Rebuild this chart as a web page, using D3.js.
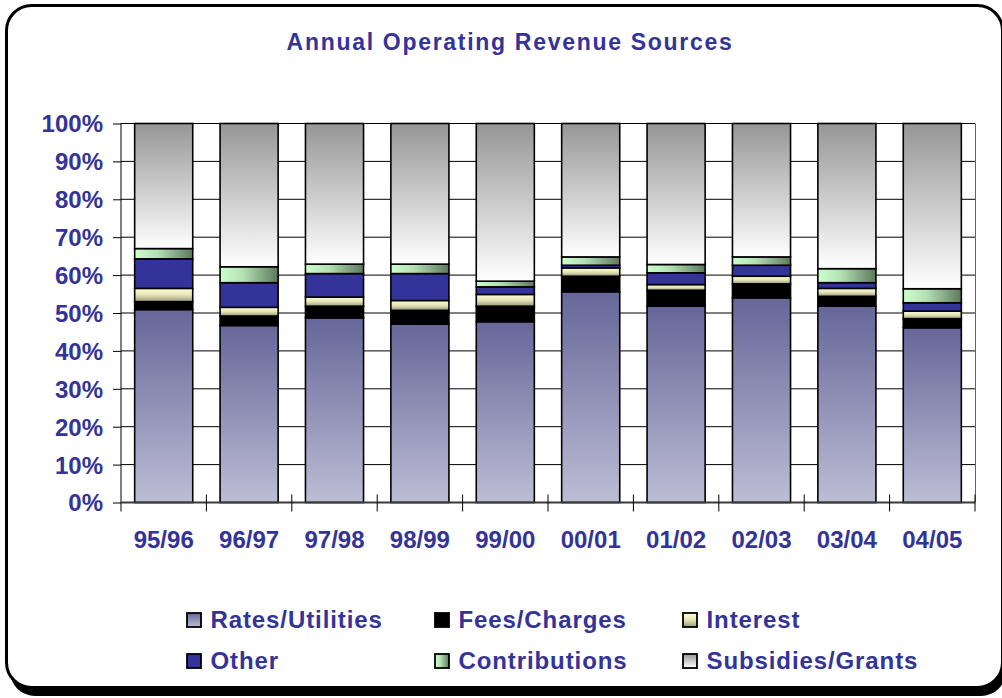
<!DOCTYPE html>
<html>
<head>
<meta charset="utf-8">
<script src="https://cdn.jsdelivr.net/npm/d3@7"></script>
<style>
  body { margin: 0; background: #fff; }
  svg { display: block; font-family: 'Liberation Sans', Arial, sans-serif; }
</style>
</head>
<body>
<script>
const years = ['95/96', '96/97', '97/98', '98/99', '99/00', '00/01', '01/02', '02/03', '03/04', '04/05'];
const seriesNames = ['Rates/Utilities', 'Fees/Charges', 'Interest', 'Other', 'Contributions', 'Subsidies/Grants'];

// percent of operating revenue per year
const ratesUtilities = [50.9, 46.7, 48.7, 47.1, 47.7, 55.6, 51.8, 54.0, 51.8, 46.1];
const feesCharges = [2.1, 2.5, 3.1, 3.6, 4.1, 4.1, 4.2, 3.7, 2.6, 2.4];
const interest = [3.5, 2.3, 2.4, 2.6, 3.1, 2.2, 1.5, 2.0, 2.1, 2.0];
const other = [7.8, 6.5, 6.2, 7.1, 2.0, 0.7, 3.1, 2.9, 1.5, 2.2];
const contributions = [2.7, 4.2, 2.5, 2.5, 1.5, 2.2, 2.2, 2.2, 3.7, 3.7];
const subsidiesGrants = [33.0, 37.8, 37.1, 37.1, 41.6, 35.2, 37.2, 35.2, 38.3, 43.6];

const yTicks = [0, 0.1, 0.2, 0.3, 0.4, 0.5, 0.6, 0.7, 0.8, 0.9, 1];

const width = 1002;
const height = 698;
const plotLeft = 121, plotRight = 975, plotTop = 123.5, plotBottom = 502.5;
const textColor = '#333399';

const seriesValues = [ratesUtilities, feesCharges, interest, other, contributions, subsidiesGrants];
const table = years.map((yr, i) => {
    const row = { year: yr };
    seriesNames.forEach((s, j) => { row[s] = seriesValues[j][i]; });
    return row;
});

const stacked = d3.stack()
    .keys(seriesNames)
    .offset(d3.stackOffsetExpand)(table);

const svg = d3.select('body').append('svg')
    .attr('width', width)
    .attr('height', height);

// gradients
const defs = svg.append('defs');
const fills = ['url(#g0)', '#000000', 'url(#g2)', '#333399', 'url(#g4)', 'url(#g5)'];
function grad(id, vertical, stops) {
    const g = defs.append('linearGradient').attr('id', id)
        .attr('x1', 0).attr('y1', 0)
        .attr('x2', vertical ? 0 : 1).attr('y2', vertical ? 1 : 0);
    stops.forEach(s => g.append('stop').attr('offset', s[0]).attr('stop-color', s[1]));
}
grad('g0', true, [[0, '#666699'], [1, '#bdbdd5']]);
grad('g2', true, [[0, '#ffffd2'], [0.5, '#e4e4b8'], [1, '#98987a']]);
grad('g4', false, [[0, '#ccffcc'], [0.4, '#b4e0b4'], [1, '#5c785c']]);
grad('g5', true, [[0, '#969696'], [1, '#ffffff']]);

// frame with shadow
svg.append('rect')
    .attr('x', 10).attr('y', 10)
    .attr('width', 996).attr('height', 686)
    .attr('rx', 25)
    .attr('fill', '#000');
svg.append('rect')
    .attr('x', 6.5).attr('y', 5.5)
    .attr('width', 996).attr('height', 682)
    .attr('rx', 25)
    .attr('fill', '#fff')
    .attr('stroke', '#000')
    .attr('stroke-width', 3);

svg.append('text')
    .attr('x', 510)
    .attr('y', 50)
    .attr('text-anchor', 'middle')
    .attr('font-size', 23)
    .attr('font-weight', 'bold')
    .attr('letter-spacing', 1.7)
    .attr('fill', textColor)
    .text('Annual Operating Revenue Sources');

const xScale = d3.scaleBand().domain(years).range([plotLeft, plotRight]);
const yScale = d3.scaleLinear().domain([0, 1]).range([plotBottom, plotTop]);

// gridlines
svg.append('g').classed('grid', true)
    .selectAll('line')
    .data(yTicks)
    .enter().append('line')
    .attr('x1', plotLeft).attr('x2', plotRight)
    .attr('y1', d => yScale(d)).attr('y2', d => yScale(d))
    .attr('stroke', '#000')
    .attr('stroke-width', 1);

svg.append('line')
    .attr('x1', plotRight + 0.5).attr('x2', plotRight + 0.5)
    .attr('y1', plotTop).attr('y2', plotBottom)
    .attr('stroke', '#666');

// bars
const barOffset = xScale.bandwidth() * 0.16;
const barWidth = xScale.bandwidth() * 0.68;
svg.append('g').classed('bars', true)
    .selectAll('g')
    .data(stacked)
    .enter().append('g')
    .attr('fill', (d, i) => fills[i])
    .selectAll('rect')
    .data(d => d)
    .enter().append('rect')
    .attr('x', d => xScale(d.data.year) + barOffset)
    .attr('y', d => yScale(d[1]))
    .attr('width', barWidth)
    .attr('height', d => yScale(d[0]) - yScale(d[1]))
    .attr('stroke', '#000')
    .attr('stroke-width', 1.6);

// y axis
const yAxis = d3.axisLeft(yScale)
    .tickValues(yTicks)
    .tickFormat(d3.format('.0%'))
    .tickSize(8)
    .tickPadding(10);
const yAxisGroup = svg.append('g')
    .attr('transform', `translate(${plotLeft},0)`)
    .call(yAxis);
yAxisGroup.select('.domain').remove();
yAxisGroup.selectAll('.tick line').attr('stroke', '#000');
yAxisGroup.selectAll('.tick text')
    .attr('font-size', 24)
    .attr('font-weight', 'bold')
    .attr('font-family', "'Liberation Sans', Arial, sans-serif")
    .attr('fill', textColor)
    .attr('dy', '0.35em');
svg.append('line')
    .attr('x1', plotLeft).attr('x2', plotLeft)
    .attr('y1', plotTop).attr('y2', plotBottom + 9)
    .attr('stroke', '#000');

// x axis
const xAxis = d3.axisBottom(xScale).tickSize(0).tickPadding(28);
const xAxisGroup = svg.append('g')
    .attr('transform', `translate(0,${plotBottom})`)
    .call(xAxis);
xAxisGroup.select('.domain').remove();
xAxisGroup.selectAll('.tick text')
    .attr('font-size', 24)
    .attr('font-weight', 'bold')
    .attr('font-family', "'Liberation Sans', Arial, sans-serif")
    .attr('fill', textColor);
svg.append('line')
    .attr('x1', plotLeft).attr('x2', plotRight)
    .attr('y1', plotBottom).attr('y2', plotBottom)
    .attr('stroke', '#3a3a3a')
    .attr('stroke-width', 2);
svg.append('g').classed('x-ticks', true)
    .selectAll('line')
    .data(years.slice(1).map(d => xScale(d)).concat([plotRight]))
    .enter().append('line')
    .attr('x1', d => d).attr('x2', d => d)
    .attr('y1', plotBottom - 8).attr('y2', plotBottom + 9)
    .attr('stroke', '#000');

// legend
const legend = svg.append('g').classed('legend', true)
    .selectAll('g')
    .data(seriesNames)
    .enter().append('g')
    .attr('transform', (d, i) => `translate(${187 + (i % 3) * 248},${i < 3 ? 613 : 654})`);
legend.append('rect')
    .attr('width', 14).attr('height', 14)
    .attr('fill', (d, i) => fills[i])
    .attr('stroke', '#000')
    .attr('stroke-width', 1.8);
legend.append('text')
    .attr('x', 23.5)
    .attr('y', 14.5)
    .attr('font-size', 24)
    .attr('font-weight', 'bold')
    .attr('letter-spacing', 0.9)
    .attr('fill', textColor)
    .text(d => d);
</script>
</body>
</html>
